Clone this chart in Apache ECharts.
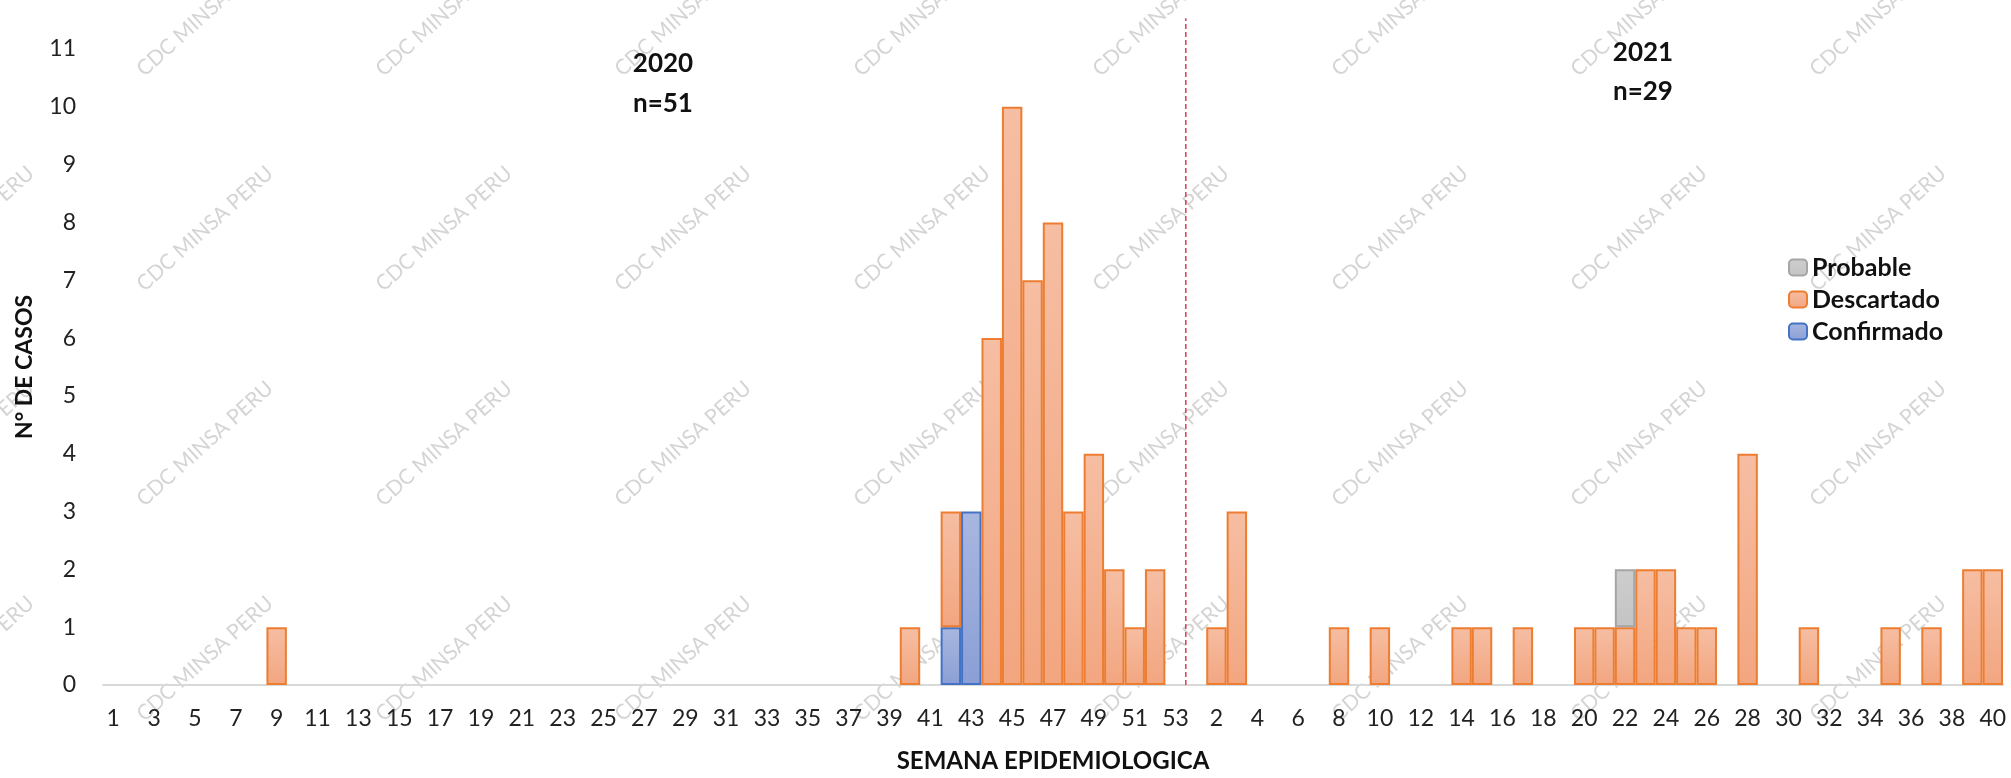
<!DOCTYPE html>
<html><head><meta charset="utf-8">
<script src="https://cdn.jsdelivr.net/npm/echarts@6/dist/echarts.min.js"></script>
<style>html,body{margin:0;padding:0;background:#fff}#c{width:2011px;height:778px}</style>
</head><body><div id="c"></div>
<script>
// ---- categories (epidemiological weeks) ----
const weeks2020 = ['1','2','3','4','5','6','7','8','9','10','11','12','13','14','15','16','17','18','19','20',
  '21','22','23','24','25','26','27','28','29','30','31','32','33','34','35','36','37','38','39','40',
  '41','42','43','44','45','46','47','48','49','50','51','52','53'];
const weeks2021 = ['1','2','3','4','5','6','7','8','9','10','11','12','13','14','15','16','17','18','19','20',
  '21','22','23','24','25','26','27','28','29','30','31','32','33','34','35','36','37','38','39','40'];

// ---- series values ----
const confirmado2020 = [0,0,0,0,0,0,0,0,0,0, 0,0,0,0,0,0,0,0,0,0, 0,0,0,0,0,0,0,0,0,0, 0,0,0,0,0,0,0,0,0,0, 0,1,3,0,0,0,0,0,0,0, 0,0,0];
const descartado2020 = [0,0,0,0,0,0,0,0,1,0, 0,0,0,0,0,0,0,0,0,0, 0,0,0,0,0,0,0,0,0,0, 0,0,0,0,0,0,0,0,0,1, 0,2,0,6,10,7,8,3,4,2, 1,2,0];
const probable2020   = [0,0,0,0,0,0,0,0,0,0, 0,0,0,0,0,0,0,0,0,0, 0,0,0,0,0,0,0,0,0,0, 0,0,0,0,0,0,0,0,0,0, 0,0,0,0,0,0,0,0,0,0, 0,0,0];
const confirmado2021 = [0,0,0,0,0,0,0,0,0,0, 0,0,0,0,0,0,0,0,0,0, 0,0,0,0,0,0,0,0,0,0, 0,0,0,0,0,0,0,0,0,0];
const descartado2021 = [0,1,3,0,0,0,0,1,0,1, 0,0,0,1,1,0,1,0,0,1, 1,1,2,2,1,1,0,4,0,0, 1,0,0,0,1,0,1,0,2,2];
const probable2021   = [0,0,0,0,0,0,0,0,0,0, 0,0,0,0,0,0,0,0,0,0, 0,1,0,0,0,0,0,0,0,0, 0,0,0,0,0,0,0,0,0,0];

const yearLabels = ['2020', 'n=51', '2021', 'n=29'];
const yearBoundary = 53;   // number of weeks in 2020 (separator position)
const separatorTop = 11.53; // separator line reaches slightly above the top tick
const yTicks = {min: 0, max: 11, interval: 1};
const watermarkText = 'CDC MINSA PERU';

// ---- build ----
const categories = weeks2020.concat(weeks2021);
const nz = a => a.map(v => v === 0 ? null : v);
const confirmado = nz(confirmado2020.concat(confirmado2021));
const descartado = nz(descartado2020.concat(descartado2021));
const probable = nz(probable2020.concat(probable2021));

const grad = (a, b) => ({type:'linear', x:0, y:0, x2:0, y2:1, colorStops:[{offset:0,color:a},{offset:1,color:b}]});
const FONT = 'Lato, "Open Sans", sans-serif';

const wm = [];
for (let i = -1; i <= 7; i++) {
  for (let j = 0; j <= 3; j++) {
    wm.push({type:'text', x: 147 + 239*i, y: 80 + 215*j, rotation: 0.733, z: 0, silent: true,
      style:{text: watermarkText, fill:'rgba(160,160,160,0.45)', font:'21px Lato', textAlign:'left', textVerticalAlign:'bottom'}});
  }
}
const tStyle = t => ({text: t, fill:'#111', font:'bold 26px Lato', textAlign:'center', textVerticalAlign:'middle'});
const titles = [
  {type:'text', x:663, y:64, style: tStyle(yearLabels[0])},
  {type:'text', x:663, y:104, style: tStyle(yearLabels[1])},
  {type:'text', x:1643, y:53, style: tStyle(yearLabels[2])},
  {type:'text', x:1643, y:92, style: tStyle(yearLabels[3])}
];

const chart = echarts.init(document.getElementById('c'), null, {renderer:'canvas'});
chart.setOption({
  animation: false,
  backgroundColor: '#fff',
  textStyle: {fontFamily: FONT},
  grid: {left: 103, right: 8, top: 49, bottom: 89, containLabel: false},
  graphic: wm.concat(titles),
  legend: {
    data: ['Probable', 'Descartado', 'Confirmado'],
    orient: 'vertical', left: 1783, top: 250,
    itemWidth: 18, itemHeight: 16, itemGap: 7,
    textStyle: {fontFamily: FONT, fontWeight: 'bold', fontSize: 25, color: '#111'}
  },
  xAxis: [{
    type: 'category', data: categories,
    axisTick: {show: false},
    axisLine: {lineStyle: {color: '#D9D9D9', width: 2}},
    axisLabel: {interval: 1, fontSize: 23, color: '#222', margin: 22, fontFamily: FONT},
    name: 'SEMANA EPIDEMIOLOGICA', nameLocation: 'middle', nameGap: 64,
    nameTextStyle: {fontWeight: 'bold', fontSize: 24, color: '#111', fontFamily: FONT}
  }, {
    type: 'value', min: 0, max: categories.length, show: false
  }],
  yAxis: {
    type: 'value', min: yTicks.min, max: yTicks.max, interval: yTicks.interval,
    axisLine: {show: false}, axisTick: {show: false}, splitLine: {show: false},
    axisLabel: {fontSize: 23, color: '#222', margin: 27, fontFamily: FONT},
    name: 'N° DE CASOS', nameLocation: 'middle', nameGap: 67,
    nameTextStyle: {fontWeight: 'bold', fontSize: 23, color: '#111', fontFamily: FONT}
  },
  series: [
    {name:'Confirmado', type:'bar', stack:'casos', data: confirmado, barCategoryGap:'0%',
      itemStyle:{color: grad('#A8B7E0','#8B9FD5'), borderColor:'#4472C4', borderWidth:2}},
    {name:'Descartado', type:'bar', stack:'casos', data: descartado, barCategoryGap:'0%',
      itemStyle:{color: grad('#F6BEA3','#F2A680'), borderColor:'#ED7D31', borderWidth:2}},
    {name:'Probable', type:'bar', stack:'casos', data: probable, barCategoryGap:'0%',
      itemStyle:{color: grad('#CDCDCD','#C4C4C4'), borderColor:'#A5A5A5', borderWidth:2}},
    {name:'sep', type:'line', xAxisIndex:1, silent: true, clip: false, z: 5,
      symbol: 'none', showSymbol: false,
      lineStyle:{color:'#E8375A', type:[5,3], width:1.5},
      data: [[yearBoundary, 0], [yearBoundary, separatorTop]]}
  ]
});
</script></body></html>
